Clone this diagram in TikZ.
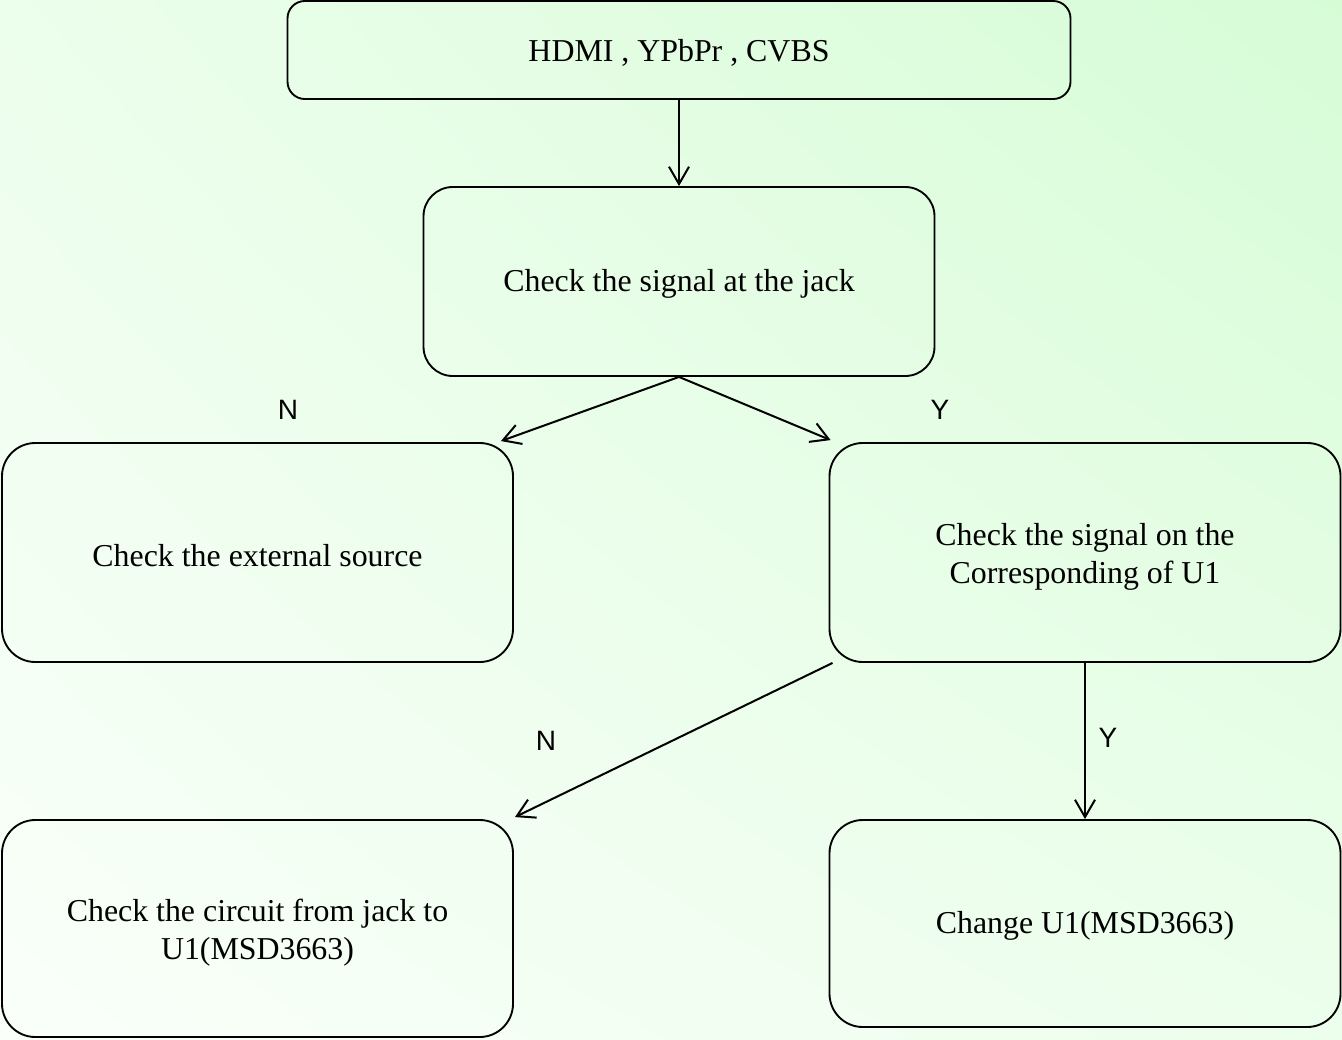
\documentclass[tikz,border=0pt]{standalone}
\usepackage{fontspec}
\setmainfont{Liberation Serif}
\newfontfamily\labfont{Liberation Sans}
\usetikzlibrary{arrows.meta,calc,shadings}
\definecolor{bgLL}{RGB}{250,255,250}
\definecolor{bgUR}{RGB}{214,252,214}
\definecolor{bgUL}{RGB}{236,254,236}
\definecolor{bgLR}{RGB}{236,254,236}
\newcommand{\topstrutx}{\rule{0pt}{20.8pt}}
\newcommand{\topstruty}{\rule{0pt}{22.5pt}}
\tikzset{
  box/.style={draw=black, line width=1.4pt, rounded corners=#1, align=center,
    font=\fontsize{23.9}{28.5}\selectfont, inner sep=0pt},
  conn/.style={draw=black, line width=1.5pt, arrows={-Straight Barb[length=13pt,width=15pt]}},
  lab/.style={font=\labfont\fontsize{21}{24}\selectfont, inner sep=0pt}
}
\begin{document}
\begin{tikzpicture}[x=0.75pt,y=-0.75pt]
\useasboundingbox (0,0) rectangle (1342,1039);
\shade[upper left=bgUL, upper right=bgUR, lower left=bgLL, lower right=bgLR] (0,0) rectangle (1342,1039);
\node[box=13pt, minimum width=587.25pt, minimum height=73.5pt] (b1) at (679,50) {\topstrutx HDMI , YPbPr , CVBS};
\node[box=22pt, minimum width=383.25pt, minimum height=141.75pt] (b2) at (679,281.5) {\topstrutx Check the signal at the jack};
\node[box=25pt, minimum width=383.25pt, minimum height=164.25pt] (b3) at (257.5,552.5) {\topstrutx Check the external source};
\node[box=25pt, minimum width=383.25pt, minimum height=164.25pt] (b4) at (1085,552.5) {\topstruty Check the signal on the\\Corresponding of U1};
\node[box=25pt, minimum width=383.25pt, minimum height=162.75pt] (b5) at (257.5,928.5) {\topstruty Check the circuit from jack to\\U1(MSD3663)};
\node[box=25pt, minimum width=383.25pt, minimum height=155.25pt] (b6) at (1085,923.5) {\topstrutx Change U1(MSD3663)};
\coordinate (t1) at ($(b3.north east)+(-13,-1)$);
\coordinate (t2) at ($(b4.north west)+(2,-2)$);
\coordinate (s3) at ($(b4.south west)+(4,0)$);
\coordinate (t3) at ($(b5.north east)+(1,-2)$);
\draw[conn] (b1.south) -- (b2.north);
\draw[conn] (b2.south) -- (t1);
\draw[conn] (b2.south) -- (t2);
\draw[conn] (s3) -- (t3);
\draw[conn] (b4.south) -- (b6.north);
\node[lab] (n1) at (288,410) {N};
\node[lab] (y1) at (940,410) {Y};
\node[lab] (n2) at (546,741) {N};
\node[lab] (y2) at (1108,738) {Y};
\end{tikzpicture}
\end{document}
